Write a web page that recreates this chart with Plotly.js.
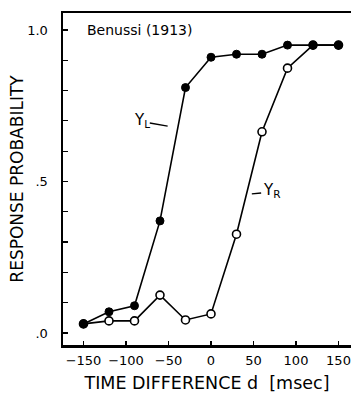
<!DOCTYPE html>
<html>
<head>
<meta charset="utf-8">
<script src="https://cdn.plot.ly/plotly-3.0.1.min.js"></script>
<style>html,body{margin:0;padding:0;background:#fff;}#chart{width:351px;height:393px;}</style>
</head>
<body>
<div id="chart"></div>
<script>
const timeDiff = [-150, -120, -90, -60, -30, 0, 30, 60, 90, 120, 150];
const yLeft  = [0.03, 0.07, 0.09, 0.37, 0.81, 0.91, 0.92, 0.92, 0.95, 0.95, 0.95];
const yRight = [0.03, 0.04, 0.04, 0.125, 0.043, 0.063, 0.326, 0.664, 0.874, 0.95, 0.95];
const xTickVals = [-150, -100, -50, 0, 50, 100, 150];
const yTickVals = [0, 0.5, 1.0];
const yTickText = ['.0', '.5', '1.0'];

const font = 'DejaVu Sans, sans-serif';

const traces = [
  {x: timeDiff, y: yRight, mode: 'lines+markers', name: 'Y_R',
   line: {color: '#000', width: 1.6},
   marker: {symbol: 'circle', size: 8, color: '#fff', line: {color: '#000', width: 1.6}}},
  {x: timeDiff, y: yLeft, mode: 'lines+markers', name: 'Y_L',
   line: {color: '#000', width: 1.6},
   marker: {symbol: 'circle', size: 8, color: '#000', line: {color: '#000', width: 1}}}
];

const layout = {
  width: 351, height: 393,
  margin: {l: 63, r: 0, t: 13, b: 48},
  paper_bgcolor: '#fff', plot_bgcolor: '#fff',
  showlegend: false,
  font: {family: font, color: '#000'},
  xaxis: {
    range: [-174.1, 164.7], tickvals: xTickVals,
    ticks: 'inside', ticklen: 4, tickwidth: 1.2, tickcolor: '#000',
    showline: true, linewidth: 2.5, linecolor: '#000', mirror: true,
    showgrid: false, zeroline: false,
    tickfont: {size: 13, family: font},
    ticklabelstandoff: 2,
    title: {text: 'TIME DIFFERENCE d  [msec]', font: {size: 17.5, family: font}, standoff: 10}
  },
  yaxis: {
    range: [-0.0396, 1.056], tickvals: yTickVals, ticktext: yTickText,
    ticks: 'inside', ticklen: 5, tickwidth: 1.2, tickcolor: '#000',
    minor: {dtick: 0.1, ticks: 'inside', ticklen: 5, tickwidth: 1.2, tickcolor: '#000', showgrid: false},
    showline: true, linewidth: 2.5, linecolor: '#000', mirror: false,
    showgrid: false, zeroline: false,
    tickfont: {size: 13, family: font},
    ticklabelstandoff: 10,
    title: {text: 'RESPONSE PROBABILITY', font: {size: 17, family: font}, standoff: 0}
  },
  annotations: [
    {xref: 'paper', yref: 'paper', x: 0.076, y: 0.95, xanchor: 'left', yanchor: 'middle',
     text: 'Benussi (1913)', showarrow: false, font: {size: 14, family: font}},
    {x: -81, y: 0.70, text: 'Y<sub>L</sub>', showarrow: false, xanchor: 'center', yanchor: 'middle',
     font: {size: 15, family: font}},
    {x: 71, y: 0.47, text: 'Y<sub>R</sub>', showarrow: false, xanchor: 'center', yanchor: 'middle',
     font: {size: 15, family: font}}
  ],
  shapes: [
    {type: 'line', x0: -72, y0: 0.693, x1: -51, y1: 0.683, line: {color: '#000', width: 1.3}},
    {type: 'line', x0: 48, y0: 0.459, x1: 59, y1: 0.462, line: {color: '#000', width: 1.3}}
  ]
};

Plotly.newPlot('chart', traces, layout, {displayModeBar: false, staticPlot: true});
</script>
</body>
</html>
